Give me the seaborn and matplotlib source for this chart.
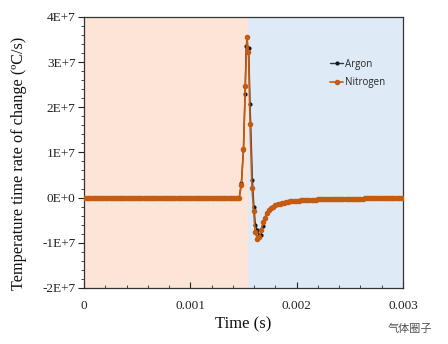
import numpy as np
import pandas as pd
import matplotlib
matplotlib.use("Agg")
import matplotlib.pyplot as plt
import seaborn as sns
from matplotlib.ticker import MultipleLocator

# ---------------- data (values in units of 1E7 degC/s, time in s) ----------------
baseline_times = [round(i * 0.00002, 6) for i in range(74)]  # 0 .. 0.00146
baseline_values = [0.0] * 74

argon_event_times = [0.001480, 0.001500, 0.001515, 0.001525, 0.001549, 0.001562,
                     0.001584, 0.001598, 0.001612, 0.001628, 0.001645, 0.001662,
                     0.001680]
argon_event_values = [0.32, 1.06, 2.30, 3.36, 3.32, 2.07,
                      0.39, -0.20, -0.60, -0.71, -0.82, -0.83,
                      -0.64]

nitrogen_event_times = [0.001480, 0.001500, 0.001517, 0.001532, 0.001547, 0.001562,
                        0.001580, 0.001595, 0.001610, 0.001630, 0.001650, 0.001668,
                        0.001685]
nitrogen_event_values = [0.28, 1.08, 2.46, 3.56, 3.22, 1.62,
                         0.21, -0.29, -0.77, -0.91, -0.87, -0.71,
                         -0.55]

tail_times = [round(0.00170 + k * 0.00002, 6) for k in range(66)]  # 0.00170 .. 0.00300
tail_values = [-0.45, -0.34, -0.28, -0.23, -0.20, -0.17, -0.15, -0.135, -0.12, -0.11,
               -0.10, -0.092, -0.085, -0.079, -0.074, -0.069, -0.065, -0.061, -0.058, -0.055,
               -0.052, -0.049, -0.047, -0.045, -0.043, -0.041, -0.039, -0.037, -0.036, -0.034,
               -0.033, -0.032, -0.031, -0.030, -0.029, -0.028, -0.027, -0.026, -0.026, -0.025,
               -0.024, -0.024, -0.023, -0.022, -0.022, -0.021, -0.021, -0.020, -0.020, -0.019,
               -0.019, -0.018, -0.018, -0.017, -0.017, -0.016, -0.016, -0.015, -0.015, -0.014,
               -0.014, -0.013, -0.013, -0.012, -0.012, -0.011]

y_ticks = [-2e7, -1e7, 0, 1e7, 2e7, 3e7, 4e7]
y_tick_labels = ["-2E+7", "-1E+7", "0E+0", "1E+7", "2E+7", "3E+7", "4E+7"]
x_ticks = [0, 0.001, 0.002, 0.003]
x_tick_labels = ["0", "0.001", "0.002", "0.003"]

heating_end = 0.001545

def build(name, ev_t, ev_v):
    t = baseline_times + ev_t + tail_times
    v = baseline_values + ev_v + tail_values
    return pd.DataFrame({"time": t, "rate": np.array(v) * 1e7, "gas": name})

df_ar = build("Argon", argon_event_times, argon_event_values)
df_n2 = build("Nitrogen", nitrogen_event_times, nitrogen_event_values)

# ---------------- plot ----------------
sns.set_style("ticks")
plt.rcParams["font.family"] = ["Liberation Serif", "DejaVu Serif"]

fig = plt.figure(figsize=(4.48, 3.44), dpi=100)
ax = fig.add_axes([0.1875, 0.163, 0.712, 0.788])

ax.axvspan(0, heating_end, color="#fce4d6", lw=0, zorder=0)
ax.axvspan(heating_end, 0.003, color="#deebf7", lw=0, zorder=0)

sns.lineplot(data=df_ar, x="time", y="rate", ax=ax, color="#2e3b4e", lw=1.0,
             marker="o", markersize=3.0, markeredgewidth=0, markerfacecolor="#101820",
             sort=True, estimator=None, label="Argon", zorder=3)
sns.lineplot(data=df_n2, x="time", y="rate", ax=ax, color="#c55a11", lw=1.2,
             marker="o", markersize=4.0, markeredgewidth=0, markerfacecolor="#c55a11",
             sort=True, estimator=None, label="Nitrogen", zorder=4)

ax.set_xlim(0, 0.003)
ax.set_ylim(-2e7, 4e7)
ax.set_xticks(x_ticks)
ax.set_xticklabels(x_tick_labels)
ax.set_yticks(y_ticks)
ax.set_yticklabels(y_tick_labels)
ax.xaxis.set_minor_locator(MultipleLocator(0.0002))
ax.yaxis.set_minor_locator(MultipleLocator(2e6))

ax.tick_params(axis="x", which="major", direction="in", length=4, width=0.8,
               labelsize=9.5, pad=9, colors="#222222")
ax.tick_params(axis="x", which="minor", direction="in", length=2.5, width=0.7, colors="#444444")
ax.tick_params(axis="y", which="major", direction="out", length=4, width=0.8,
               labelsize=9.5, pad=2, colors="#222222")
ax.tick_params(axis="y", which="minor", direction="out", length=2.5, width=0.7, colors="#444444")

for s in ["left", "bottom", "top", "right"]:
    ax.spines[s].set_visible(True)
    ax.spines[s].set_color("#333333")
    ax.spines[s].set_linewidth(0.9)

ax.set_xlabel("Time (s)", fontsize=12, labelpad=3, color="#111111")
ax.set_ylabel("Temperature time rate of change (ºC/s)", fontsize=11.7, color="#111111")
ax.yaxis.set_label_coords(-0.178, 0.46)

leg = ax.legend(loc="upper left", bbox_to_anchor=(0.76, 0.86), frameon=False,
                prop={"family": "Open Sans", "size": 7}, handlelength=1.3,
                handletextpad=0.2, labelspacing=0.8, borderaxespad=0)

fig.text(0.865, 0.035, "气体圈子", family=["Noto Sans CJK SC"], fontsize=8,
         color="#333333", alpha=0.85)

fig.savefig("out.png", dpi=100)
